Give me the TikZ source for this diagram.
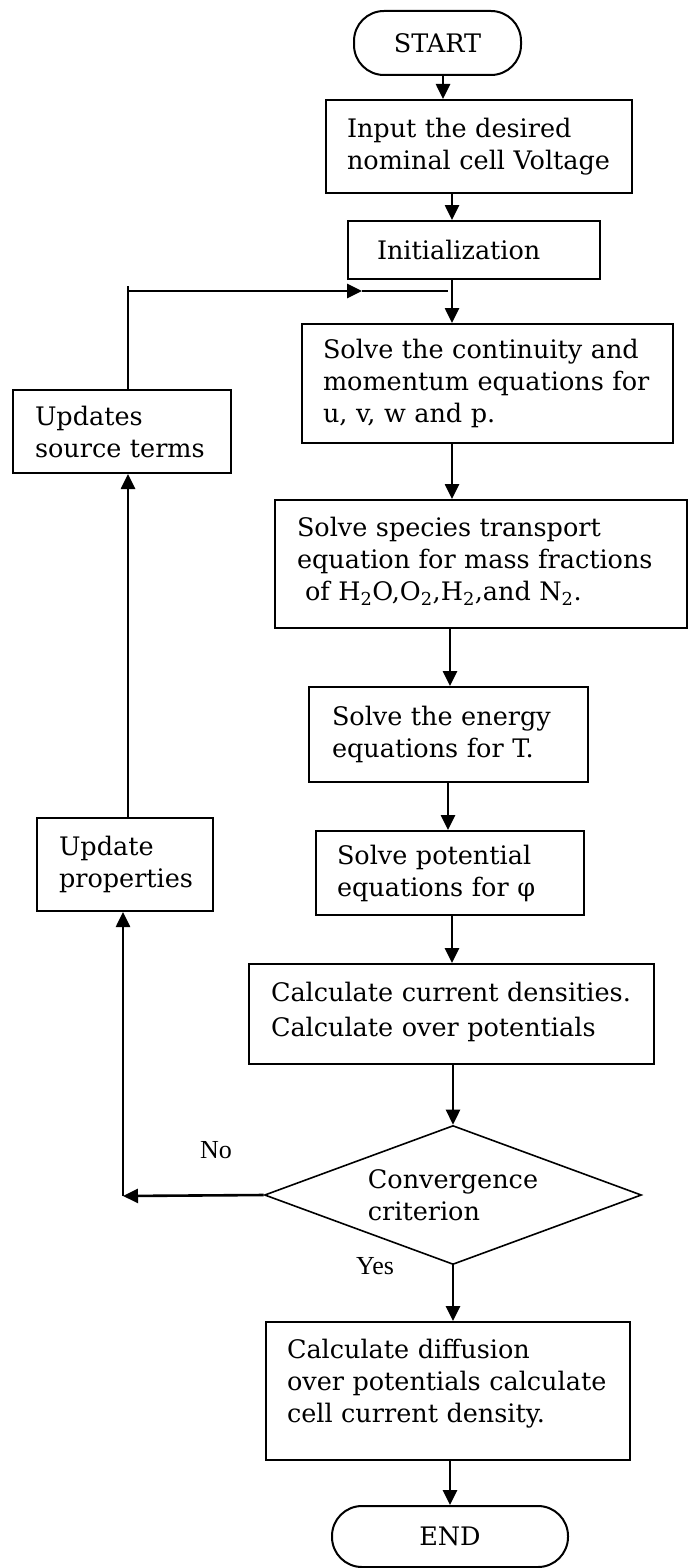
\documentclass[tikz,border=0pt]{standalone}
\usepackage{fontspec}
\setmainfont{DejaVu Serif}
\newfontfamily\lblfamily{Liberation Serif}
\usetikzlibrary{arrows.meta,shapes.geometric}
\newcommand\boxfont{\fontsize{25.5}{32}\selectfont}
\newcommand\lblfont{\lblfamily\fontsize{26}{30}\selectfont}
\newcommand\one[1]{\mbox{#1}}
\begin{document}
\begin{tikzpicture}[x=1pt,y=-1pt,
  box/.style={draw, line width=2pt, rectangle, align=left, inner ysep=0pt, font=\boxfont},
  term/.style={draw, line width=2pt, rounded corners=30pt, inner sep=0pt, font=\boxfont},
  arr/.style={line width=2.6pt, -{Triangle[length=15pt,width=14pt]}},
  ln/.style={line width=2.6pt},
  lbl/.style={inner sep=0pt, font=\lblfont}]
\useasboundingbox (0,0) rectangle (691,1568);

% terminals
\node[term, minimum width=167pt, minimum height=64pt] (start) at (437.5,43) {START};
\node[term, minimum width=236pt, minimum height=61pt] (end) at (450,1536.5) {END};

% process boxes
\node[box, minimum width=306pt, minimum height=93pt, inner xsep=21pt, text width=264pt] (input) at (479,146.5)
  {\one{Input the desired}\\\one{nominal cell Voltage}};
\node[box, minimum width=252pt, minimum height=58pt, inner xsep=29pt, text width=194pt] (init) at (474,250)
  {\one{Initialization}};
\node[box, minimum width=371pt, minimum height=119pt, inner xsep=21pt, text width=329pt] (solve1) at (487.5,383.5)
  {\one{Solve the continuity and}\\\one{momentum equations for}\\\one{u, v, w and p.}};
\node[box, minimum width=412pt, minimum height=128pt, inner xsep=22pt, text width=368pt] (species) at (481,564)
  {\one{Solve species transport}\\\one{equation for mass fractions}\\\one{\hspace*{8pt}of H\textsubscript{2}O,O\textsubscript{2},H\textsubscript{2},and N\textsubscript{2}.}\\[-22pt]\mbox{}};
\node[box, minimum width=279pt, minimum height=95pt, inner xsep=23pt, text width=233pt] (energy) at (448.5,734.5)
  {\one{Solve the energy}\\\one{equations for T.}};
\node[box, minimum width=268pt, minimum height=84pt, inner xsep=21pt, text width=226pt] (potential) at (450,873)
  {\one{Solve potential}\\\one{equations for φ}};
\node[box, minimum width=405pt, minimum height=100pt, inner xsep=22pt, text width=361pt] (calc) at (451.5,1014)
  {\one{Calculate current densities.}\\[3pt]\one{Calculate over potentials}\\[-22pt]\mbox{}};
\node[box, minimum width=364pt, minimum height=138pt, inner xsep=21pt, text width=322pt] (diffusion) at (448,1391)
  {\one{Calculate diffusion}\\\one{over potentials calculate}\\\one{cell current density.}\\[-12pt]\mbox{}};
\node[box, minimum width=218pt, minimum height=83pt, inner xsep=22pt, text width=174pt] (src) at (122,431.5)
  {\one{Updates}\\\one{source terms}};
\node[box, minimum width=176pt, minimum height=93pt, inner xsep=22pt, text width=132pt] (upd) at (125,864.5)
  {\one{Update}\\\one{properties}};

% decision
\node[draw, diamond, shape aspect=2.7, minimum width=377pt, minimum height=139pt, inner sep=0pt,
  line width=1.6pt, align=left, font=\boxfont] (dia) at (453,1195) {Convergence\\criterion};

% labels
\node[lbl] (nolbl) at (216,1150) {No};
\node[lbl] (yeslbl) at (375,1266) {Yes};

% columns and corners
\coordinate (k1) at (443,0);
\coordinate (k2) at (452,0);
\coordinate (k3) at (450,0);
\coordinate (k4) at (448,0);
\coordinate (kL) at (128,0);
\coordinate (fbtop) at (128,286);
\coordinate (fbcorner) at (128,291);
\coordinate (fbtip) at (362,291);
\coordinate (fbend) at (448,291);
\coordinate (nocorner) at (123,1196);

% main flow
\draw[arr] (start.south -| k1) -- (input.north -| k1);
\draw[arr] (input.south -| k2) -- (init.north -| k2);
\draw[arr] (init.south -| k2) -- (solve1.north -| k2);
\draw[arr] (solve1.south -| k2) -- (species.north -| k2);
\draw[arr] (species.south -| k3) -- (energy.north -| k3);
\draw[arr] (energy.south -| k4) -- (potential.north -| k4);
\draw[arr] (potential.south -| k2) -- (calc.north -| k2);
\draw[arr] (calc.south -| dia.north) -- (dia.north);
\draw[arr] (dia.south) -- (diffusion.north -| dia.south);
\draw[arr] (diffusion.south -| k3) -- (end.north -| k3);

% feedback loop
\draw[arr] (dia.west) -- (nocorner);
\draw[arr] (nocorner) -- (upd.south -| nocorner);
\draw[arr] (upd.north -| kL) -- (src.south -| kL);
\draw[ln] (src.north -| kL) -- (fbtop);
\draw[arr] (fbcorner) -- (fbtip);
\draw[ln] (fbtip) -- (fbend);
\end{tikzpicture}
\end{document}
